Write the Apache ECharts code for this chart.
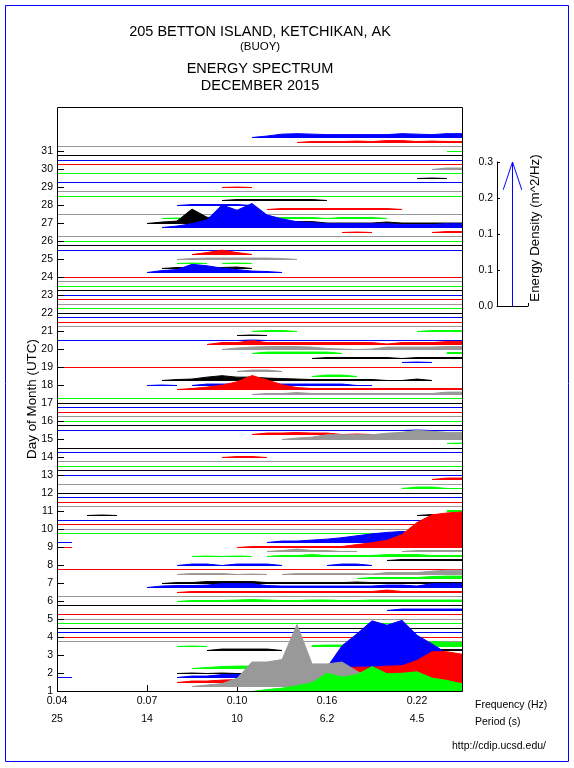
<!DOCTYPE html>
<html><head><meta charset="utf-8">
<script src="https://cdn.jsdelivr.net/npm/echarts@6/dist/echarts.min.js"></script>
<style>html,body{margin:0;padding:0;background:#fff}#c{width:574px;height:768px}</style>
</head><body><div id="c"></div>
<script>
// ---------- axis / tick data ----------
const tickBands   = [0, 6, 12, 18, 24];              // band index of each labelled tick
const freqLabels  = ['0.04', '0.07', '0.10', '0.16', '0.22'];
const periodLabels= ['25', '14', '10', '6.2', '4.5'];
const days        = [1,2,3,4,5,6,7,8,9,10,11,12,13,14,15,16,17,18,19,20,21,22,23,24,25,26,27,28,29,30,31];
const hours       = [0, 6, 12, 18];                 // spectra every 6 h (UTC)
const palette     = ['#00ff00', '#999999', '#ff0000', '#0000ff', '#000000']; // successive spectra colours
const legendTicks = [0, 0.075, 0.15, 0.225, 0.3];   // m^2/Hz

// ---------- spectra: energy density in 0.001 m^2/Hz, runs of [firstBand, values...] ----------
function seg(...a){ const r=[]; for(let k=0;k<a.length;k+=2) r.push([a[k],a[k+1]]); return r; }
const FLAT = seg(0,[0,0,0,0,0,0,0,0,0,0,0,0,0,0,0,0,0,0,0,0,0,0,0,0,0,0,0,0]);
const NONE = seg();

const day01 = [seg(13,[0,4,7,12,18,38,30,35,52,37,38,41,28,23,16]),
               seg(9,[0,3,6,17,51,51,56,129,47,47,51,32,16,8,4,4,4,2,2]),
               seg(8,[0,3,3,5,6,8,10,12,16,20,25,29,32,32,34,35,46,64,64,59]),
               seg(0,[0,0], 8,[0,3,3,6,6,6,6,6,6,6,21,66,91,118,109,119,88,70,50,36])];
const day02 = [seg(8,[0,1,0,1,0,0,0]), seg(9,[0,2,4,5,5,5]), NONE, NONE];
const day03 = [NONE, seg(10,[0,3,3,3,3,0], 23,[0,1,2,2,2]),
               seg(8,[0,1,0], 17,[2,3,3,3,3,4,5,6,10,9,8]), FLAT];
const day04 = [FLAT, FLAT, FLAT, FLAT];
const day05 = [FLAT, FLAT, seg(22,[0,3,3,3,3,3]), FLAT];
const day06 = [seg(8,[0,2,2,2,3,4,3,2,2,3,3,2,2,3,3,3,3,3,3,3]), FLAT,
               seg(8,[0,2,2,2,2,2,2,2,2,2,2,2,2,2,5,2,2,2,2,2]),
               seg(6,[0,3,4,4,5,8,8,8,4,3,3,3,3,3,3,3,5,5,3,8,8,8])];
const day07 = [seg(7,[0,2,2,4,4,4,4,2,2,2,2,2,2,3,2,2,2,2,2,2,2]),
               seg(20,[0,2,2,2,2,4,5,5]),
               seg(8,[0,2,2,2,0,1,0], 15,[0,2,2,2,2,2,1,4,4,4,7,9,9]), FLAT];
const day08 = [seg(8,[0,3,3,0,3,3,3,0], 18,[0,3,3,0]),
               seg(22,[0,2,2,2,2,2]),
               seg(9,[0,1,0,1,0], 14,[0,2,2,4,2,2,2,2,4,4,4,2,2,2]),
               seg(14,[0,2,5,2,2,0,0], 23,[0,2,2,2,2])];
const day09 = [seg(0,[0,0], 12,[0,2,2,2,2,2,2,2,6,10,15,27,52,68,72,74]),
               seg(0,[0,0], 14,[0,3,3,5,7,10,14,18,21,23,20,15,10,8]), NONE, FLAT];
const day10 = [FLAT, FLAT, FLAT, seg(2,[0,1,0], 24,[0,2,2,2])];
const day11 = [seg(26,[2,2]), FLAT, FLAT, FLAT];
const day12 = [FLAT, seg(23,[0,3,3,0,0]), FLAT, seg(25,[0,3,3])];
const day13 = [FLAT, FLAT, FLAT, FLAT];
const day14 = [seg(11,[0,2,2,0]), FLAT, FLAT, seg(26,[0,1])];
const day15 = [seg(15,[0,3,5,10,10,10,10,13,15,19,17,15,15]),
               seg(13,[0,3,3,4,3,3,0,1,0]),
               seg(0,[0,0,0,0,0,0,0,0,0,0,0,0,0,0,0,0,0,0,0,0,0,0,0,0,1,0,0,0]), FLAT];
const day16 = [FLAT, FLAT, FLAT, FLAT];
const day17 = [FLAT, FLAT, seg(13,[0,2,2,4,2,2,2,2,2,2,2,2,2,5,5]),
               seg(8,[0,2,5,9,16,29,20,10,4,2,2,2,2,2,2,2,2,2,2,2])];
const day18 = [seg(6,[0,1,0], 9,[0,3,3,3,3,3,3,3,3,3,3,0,0]),
               seg(7,[0,2,3,7,10,7,7,5,4,3,2,2,2,2,2,0,0,3,0]),
               seg(17,[0,3,3,0]), seg(12,[0,3,3,0])];
const day19 = [FLAT, seg(23,[0,1,0]), seg(17,[0,2,2,2,2,2,0,2,2,2,2]),
               seg(13,[0,3,3,3,3,3,0], 26,[2,2])];
const day20 = [seg(11,[0,3,5,6,6,6,5,2,1,0,1,5,5,5,5,6,6]),
               seg(10,[0,4,4,8,4,4,4,4,4,4,4,4,1,4,4,4,6,6]),
               seg(0,[0,0,0,0,0,0,0,0,0,0,0,0,0,1,0,0,0,0,0,0,0,0,0,0,0,0,0,0]),
               seg(12,[0,1,0])];
const day21 = [seg(13,[0,2,2,0], 24,[0,2,2,2]), FLAT, FLAT, FLAT];
const day22 = [FLAT, FLAT, FLAT, FLAT];
const day23 = [FLAT, FLAT, FLAT, FLAT];
const day24 = [FLAT, seg(6,[0,4,6,17,14,9,6,3,2,0]), seg(7,[0,2,2,2,2,3,0]),
               seg(8,[0,1,0], 11,[0,1,0])];
const day25 = [seg(8,[0,2,3,3,3,3,3,2,0]), seg(9,[0,4,9,4,0]), FLAT, FLAT];
const day26 = [FLAT, FLAT, seg(19,[0,1,0], 25,[0,2,2]),
               seg(7,[0,3,8,16,47,36,50,26,18,12,10,8,8,8,8,8,6,6,6,8,8])];
const day27 = [seg(6,[0,3,5,30,13,10,8,6,4,3,4,4,1,1,1,1,3,1,1,1,1,1]),
               seg(7,[0,1,1,1,1,1,1,0,2,2,2,0,2,2,2,0]), FLAT,
               seg(14,[0,2,2,2,2,2,2,2,2,0])];
const day28 = [seg(8,[0,2,2,2,2,0]), seg(11,[0,2,2,2,2,2,2,0]), FLAT, FLAT];
const day29 = [seg(11,[0,1,0]), FLAT, seg(24,[0,1,0]), FLAT];
const day30 = [seg(25,[0,3,3]), FLAT, FLAT, FLAT];
const day31 = [seg(26,[0,0]), FLAT, seg(16,[0,2,2,2,3,2,4,4,2,3,2,2]),
               seg(13,[0,3,7,8,7,6,6,6,6,6,8,7,6,8,8])];

const dayLists = [day01,day02,day03,day04,day05,day06,day07,day08,day09,day10,day11,day12,day13,day14,day15,
                  day16,day17,day18,day19,day20,day21,day22,day23,day24,day25,day26,day27,day28,day29,day30,day31];

const ENERGY_UNIT = 0.001;            // m^2/Hz per stored unit
const DAYS_PER_ENERGY = 480 / 18;     // vertical scale: 1 m^2/Hz drawn as this many days

const spectra = [];
dayLists.forEach((list, d) => list.forEach((runs, k) => {
  const n = d * 4 + k;
  spectra.push({ t: days[d] + hours[k] / 24, runs, color: palette[n % 5] });
}));

const FONT = '"Liberation Sans", Arial, sans-serif';

function renderSpectrum(params, api) {
  const sp = spectra[api.value(0)];
  const y0 = api.coord([0, sp.t])[1];
  const yb = Math.floor(y0) + 0.5;
  const children = sp.runs.map(([start, vals]) => {
    const top = vals.map((v, j) => {
      const p = api.coord([start + j, sp.t + v * ENERGY_UNIT * DAYS_PER_ENERGY]);
      return [p[0], yb - (y0 - p[1])];
    });
    const xa = top[0][0], xb = top[top.length - 1][0];
    return { type: 'polygon', shape: { points: top.concat([[xb, yb], [xa, yb]]) },
             style: { fill: sp.color, stroke: sp.color, lineWidth: 1, lineJoin: 'bevel' } };
  });
  return { type: 'group', children };
}

const chart = echarts.init(document.getElementById('c'), null, { renderer: 'canvas' });
const lbl = { color: '#000', fontSize: 10.5, fontFamily: FONT };

chart.setOption({
  animation: false,
  backgroundColor: '#fff',
  grid: [
    { left: 57, top: 107, width: 405, height: 584 },
    { left: 497, top: 162, width: 31, height: 144 }
  ],
  xAxis: [
    { gridIndex: 0, type: 'value', min: 0, max: 27, position: 'bottom',
      axisLine: { show: false },
      axisTick: { inside: true, length: 6, customValues: tickBands, lineStyle: { color: '#000' } },
      axisLabel: Object.assign({ margin: 5, customValues: tickBands,
        formatter: v => freqLabels[tickBands.indexOf(v)] || '' }, lbl),
      splitLine: { show: false } },
    { gridIndex: 0, type: 'value', min: 0, max: 27, position: 'bottom', offset: 18,
      axisLine: { show: false }, axisTick: { show: false },
      axisLabel: Object.assign({ margin: 5, customValues: tickBands,
        formatter: v => periodLabels[tickBands.indexOf(v)] || '' }, lbl),
      splitLine: { show: false } },
    { gridIndex: 1, type: 'value', min: 0, max: 2, interval: 1,
      axisLine: { lineStyle: { color: '#000' } },
      axisTick: { inside: true, length: 3, lineStyle: { color: '#000' } },
      axisLabel: { show: false }, splitLine: { show: false } }
  ],
  yAxis: [
    { gridIndex: 0, type: 'value', min: 1, max: 33.45, z: 5,
      axisLine: { show: false },
      axisTick: { inside: true, length: 7, customValues: days, lineStyle: { color: '#000' } },
      axisLabel: Object.assign({ margin: 4, customValues: days }, lbl),
      splitLine: { show: false } },
    { gridIndex: 1, type: 'value', min: 0, max: 0.3, interval: 0.075,
      axisLine: { show: true, lineStyle: { color: '#000' } },
      axisTick: { show: true, inside: true, length: 3, lineStyle: { color: '#000' } },
      axisLabel: Object.assign({ margin: 4, formatter: v => v.toFixed(1) }, lbl),
      splitLine: { show: false } }
  ],
  series: [
    { type: 'custom', xAxisIndex: 0, yAxisIndex: 0, silent: true,
      renderItem: renderSpectrum,
      data: spectra.map((s, i) => [i]).reverse() },
    { type: 'line', xAxisIndex: 2, yAxisIndex: 1, silent: true, symbol: 'none',
      lineStyle: { color: '#0000ff', width: 1 },
      data: [[1, legendTicks[0]], [1, legendTicks[4]]] },
    { type: 'line', xAxisIndex: 2, yAxisIndex: 1, silent: true, symbol: 'none',
      lineStyle: { color: '#0000ff', width: 1 },
      data: [[0.4, 0.242], [1, legendTicks[4]], [1.6, 0.242]] }
  ],
  graphic: [
    { type: 'rect', z: 100, silent: true, shape: { x: 57.5, y: 107.5, width: 405, height: 584 },
      style: { fill: null, stroke: '#000', lineWidth: 1 } },
    { type: 'rect', z: 100, silent: true, shape: { x: 5.5, y: 5.5, width: 563, height: 756 },
      style: { fill: null, stroke: '#0000ff', lineWidth: 1 } },
    { type: 'text', x: 260, y: 31.5, style: { text: '205 BETTON ISLAND, KETCHIKAN, AK', font: '14.5px ' + FONT, fill: '#000', align: 'center', verticalAlign: 'middle' } },
    { type: 'text', x: 260, y: 46.5, style: { text: '(BUOY)', font: '11.5px ' + FONT, fill: '#000', align: 'center', verticalAlign: 'middle' } },
    { type: 'text', x: 260, y: 69, style: { text: 'ENERGY SPECTRUM', font: '14.5px ' + FONT, fill: '#000', align: 'center', verticalAlign: 'middle' } },
    { type: 'text', x: 260, y: 85.5, style: { text: 'DECEMBER 2015', font: '14.5px ' + FONT, fill: '#000', align: 'center', verticalAlign: 'middle' } },
    { type: 'text', x: 32, y: 399, rotation: Math.PI / 2, style: { text: 'Day of Month (UTC)', font: '13.4px ' + FONT, fill: '#000', align: 'center', verticalAlign: 'middle' } },
    { type: 'text', x: 535, y: 228, rotation: Math.PI / 2, style: { text: 'Energy Density (m^2/Hz)', font: '13.3px ' + FONT, fill: '#000', align: 'center', verticalAlign: 'middle' } },
    { type: 'text', x: 475, y: 705, style: { text: 'Frequency (Hz)', font: '10.5px ' + FONT, fill: '#000', align: 'left', verticalAlign: 'middle' } },
    { type: 'text', x: 475, y: 722, style: { text: 'Period (s)', font: '10.5px ' + FONT, fill: '#000', align: 'left', verticalAlign: 'middle' } },
    { type: 'text', x: 452, y: 746, style: { text: 'http://cdip.ucsd.edu/', font: '10.5px ' + FONT, fill: '#000', align: 'left', verticalAlign: 'middle' } }
  ]
});
</script></body></html>
